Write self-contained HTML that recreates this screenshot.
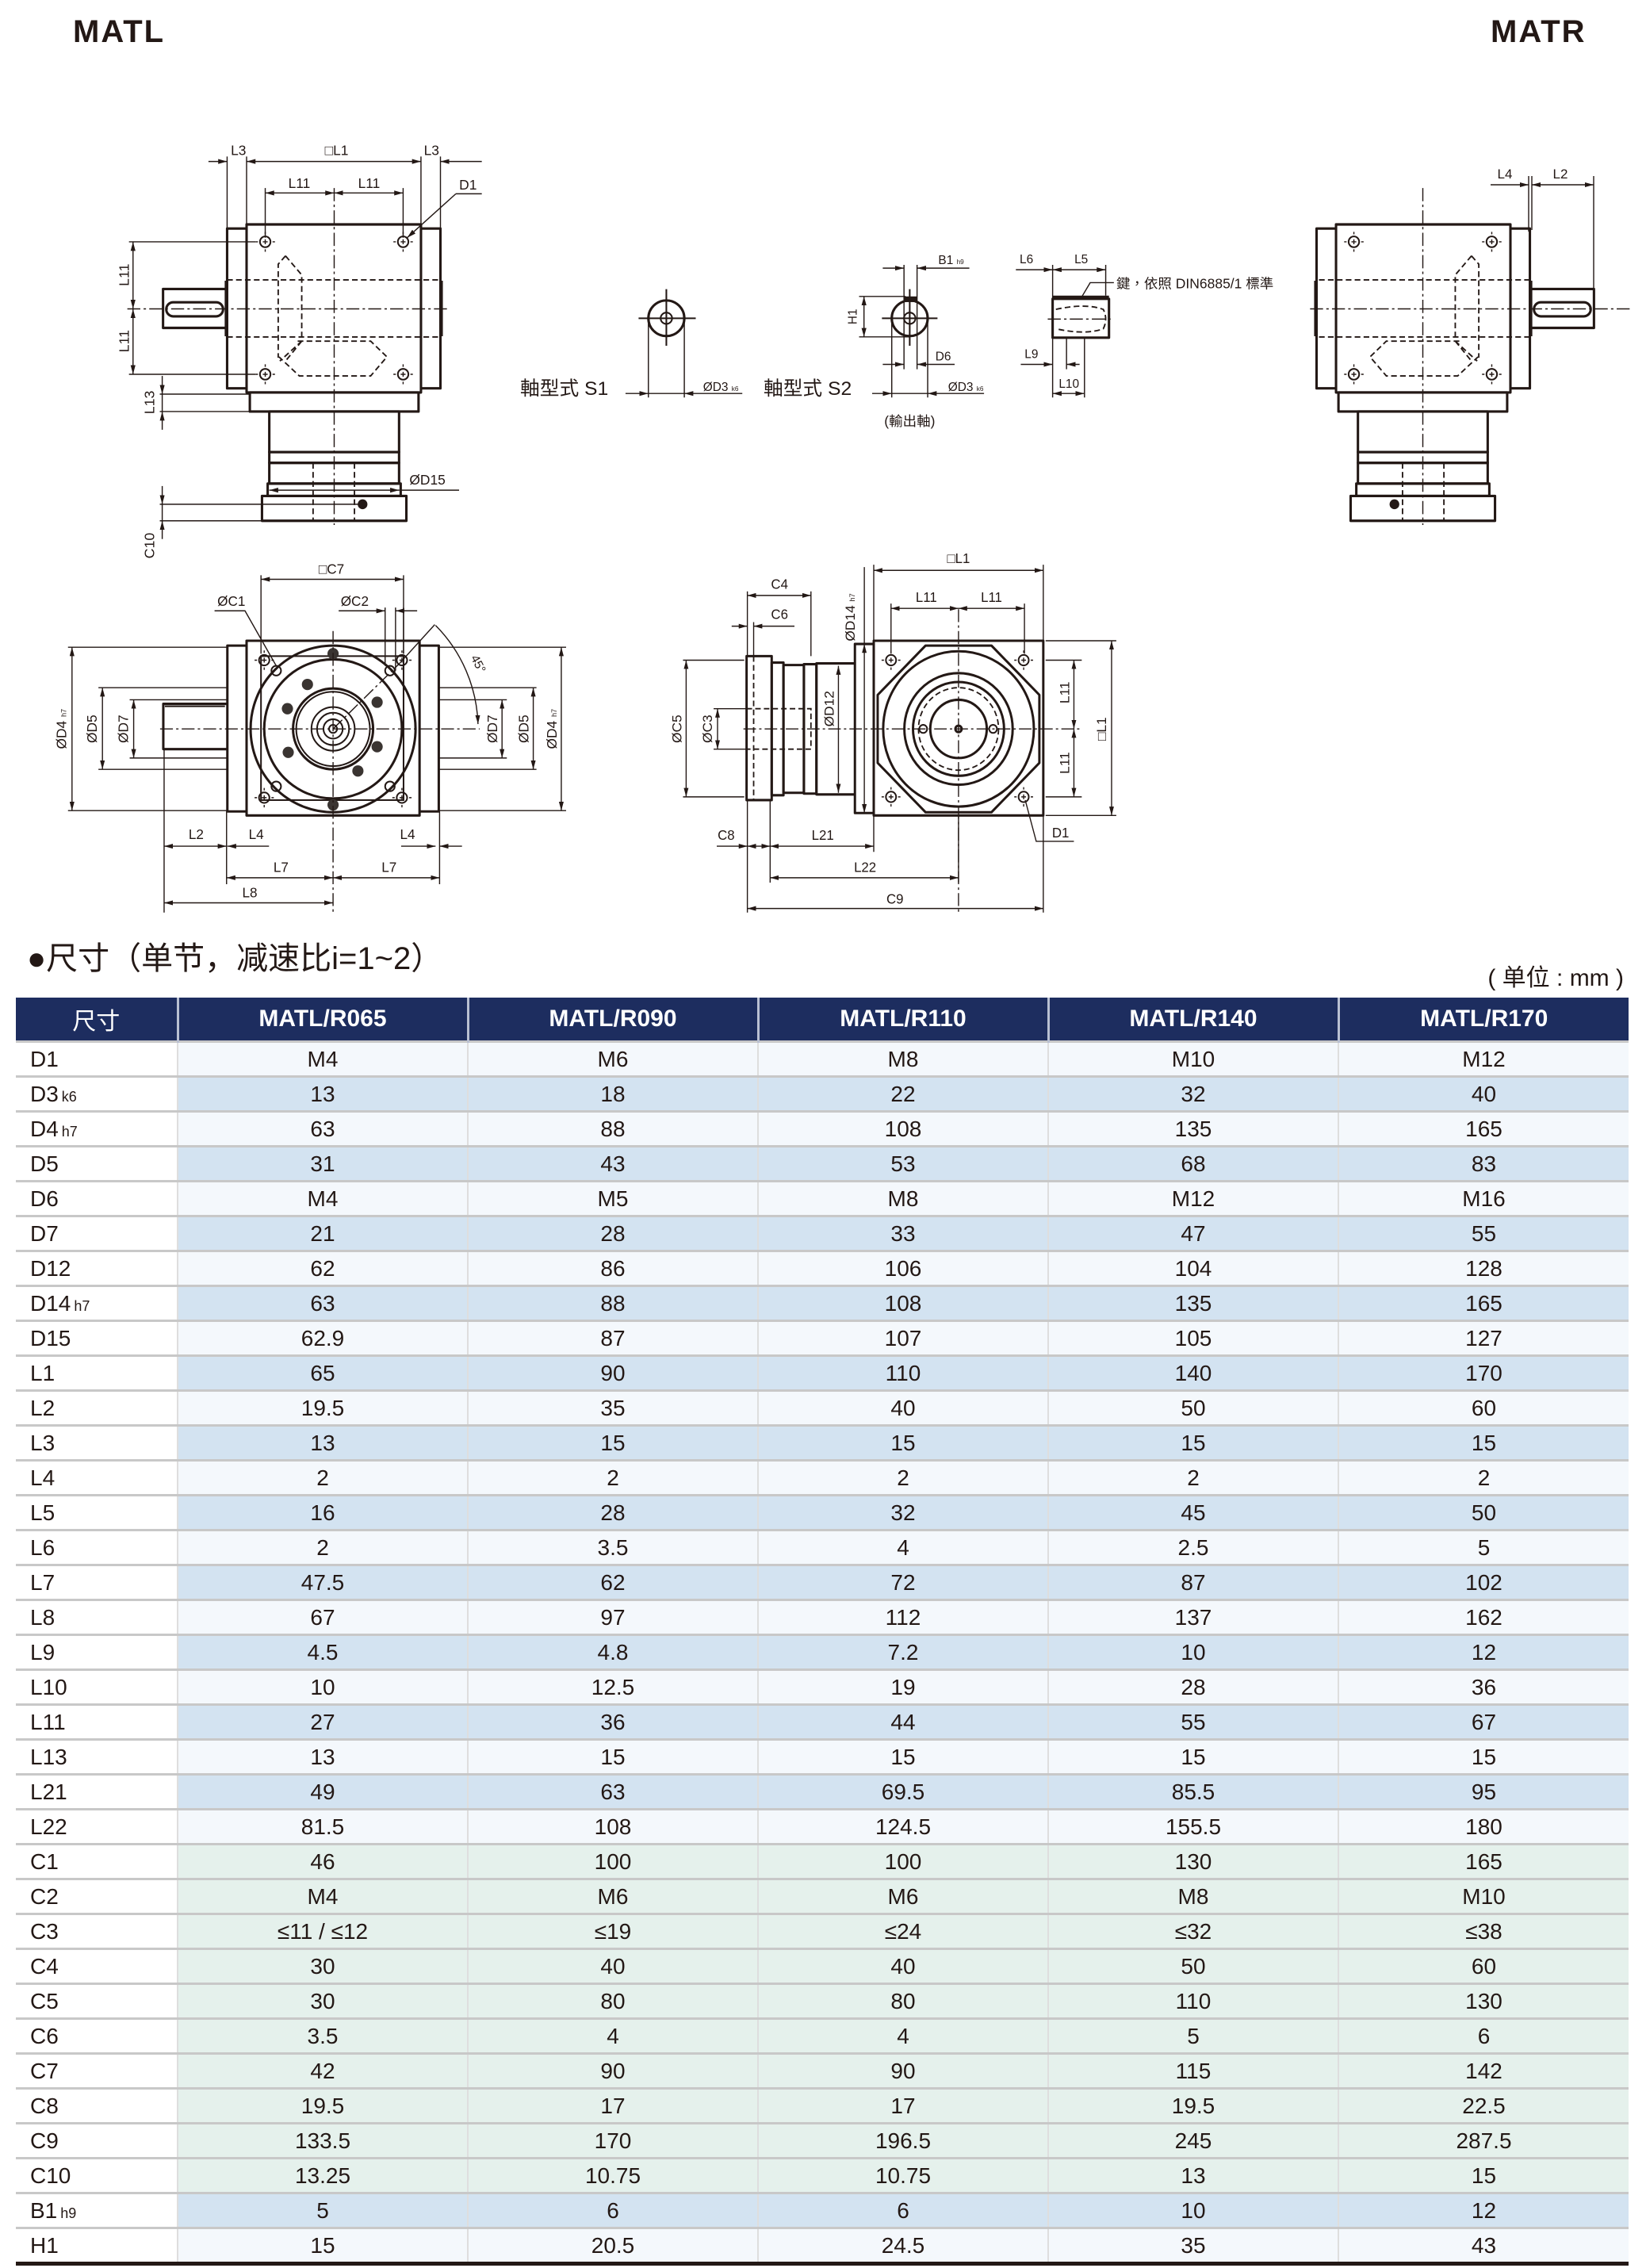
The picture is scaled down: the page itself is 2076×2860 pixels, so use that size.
<!DOCTYPE html>
<html><head><meta charset="utf-8">
<style>
html,body{margin:0;padding:0;background:#fff;}
body{width:2076px;height:2860px;position:relative;overflow:hidden;font-family:"Liberation Sans","Noto Sans CJK SC",sans-serif;color:#231815;}
svg text{font-family:"Liberation Sans","Noto Sans CJK TC",sans-serif;fill:#231815;}
.t{fill:none;stroke:#231815;stroke-width:3;stroke-linejoin:round}
.m{fill:none;stroke:#231815;stroke-width:2}
.d{fill:none;stroke:#231815;stroke-width:1.4}
.h{fill:none;stroke:#231815;stroke-width:1.8;stroke-dasharray:7 4}
.c{fill:none;stroke:#231815;stroke-width:1.4;stroke-dasharray:16 4 3 4}
.a{marker-start:url(#ar);marker-end:url(#ar)}
.e{marker-end:url(#ar)}
.lb{font-size:17px;text-anchor:middle}
#tbl{position:absolute;left:20px;top:1258px;border-collapse:collapse;table-layout:fixed;width:2034px;}
#tbl th{background:#1d2d5f;color:#fff;font-weight:bold;font-size:30px;height:54px;padding:0;border-left:3px solid #b9c0d2;}
#tbl th:first-child{border-left:none;font-weight:normal;font-family:"Liberation Sans","Noto Sans CJK SC",sans-serif;}
#tbl td{height:41px;padding:0;border-top:3px solid #c8c8c8;font-size:28px;text-align:center;border-left:2px solid #dedede;background:#f4f8fc;}
#tbl td:first-child{text-align:left;padding-left:18px;background:#fff;border-left:none;}
#tbl tr.b td{background:#d3e3f1;}
#tbl tr.g td{background:#e5f1ec;}
#tbl tr.b td:first-child,#tbl tr.g td:first-child{background:#fff;}
#tbl td small{font-size:18px;margin-left:4px;}
#tbl tr:last-child td{border-bottom:5px solid #231815;}
</style></head><body>

<div style="position:absolute;left:92px;top:18px;font-size:40px;font-weight:bold;letter-spacing:2px;">MATL</div>
<div style="position:absolute;left:1880px;top:18px;font-size:40px;font-weight:bold;letter-spacing:2px;">MATR</div>

<svg style="position:absolute;left:0;top:0" width="2076" height="1180" viewBox="0 0 2076 1180">
<defs>
<marker id="ar" viewBox="0 0 11 6" refX="11" refY="3" markerWidth="11" markerHeight="6" markerUnits="userSpaceOnUse" orient="auto-start-reverse"><path d="M0,0 L11,3 L0,6z" fill="#231815"/></marker>
<g id="hole"><circle r="6.5" class="m"/><path d="M-3,0H3M0,-3V3" class="d"/><path d="M-12,0H-9M9,0H12M0,-12V-9M0,9V12" class="d"/></g>
<g id="body">
 <rect x="307" y="272" width="215" height="203" class="t"/>
 <path d="M307,277H283V470H307M522,277H546V470H522" class="t"/>
 <path d="M282,340V407M547,340V407" stroke="#231815" stroke-width="4"/>
 <rect x="204" y="350" width="78" height="47" class="t"/>
 <rect x="208" y="366" width="70" height="17" rx="8.5" class="t"/>
 <use href="#hole" x="330" y="293"/><use href="#hole" x="500" y="293"/>
 <use href="#hole" x="330" y="453"/><use href="#hole" x="500" y="453"/>
 <path d="M283,339H546M283,408H546" class="h"/>
 <path d="M355,310L346,320V433M355,310L375,333V413L348,437M370,413H460L480,432L460,455H372L347,432M375,413L355,437" class="h"/>
 <path d="M160,374H555M415,228V635" class="c"/>
 <rect x="311" y="475" width="208" height="23" class="t"/>
 <rect x="335" y="498" width="160" height="49" class="t"/>
 <rect x="335" y="547" width="160" height="13" class="t"/>
 <rect x="335" y="560" width="160" height="25" class="t"/>
 <rect x="333" y="585" width="164" height="15" class="t"/>
 <rect x="326" y="600" width="178" height="30" class="t"/>
 <path d="M389,560V630M440,560V630" class="h"/>
 <circle cx="450" cy="610" r="6" fill="#231815"/>
</g>
</defs>

<!-- TOP LEFT MATL -->
<g transform="translate(311,283) scale(1.023,1.044) translate(-307,-272)">
 <use href="#body"/>
 <path d="M283,190V277M307,190V272M522,190V272M546,190V277" class="d"/>
 <line x1="260" y1="196" x2="283" y2="196" class="d e"/>
 <line x1="307" y1="196" x2="522" y2="196" class="d a"/>
 <line x1="597" y1="196" x2="546" y2="196" class="d e"/>
 <text x="297" y="188" class="lb">L3</text><text x="418" y="188" class="lb">□L1</text><text x="535" y="188" class="lb">L3</text>
 <path d="M330,228V288M500,228V288" class="d"/>
 <line x1="330" y1="234" x2="415" y2="234" class="d a"/><line x1="415" y1="234" x2="500" y2="234" class="d a"/>
 <text x="372" y="228" class="lb">L11</text><text x="458" y="228" class="lb">L11</text>
 <text x="580" y="230" class="lb">D1</text>
 <path d="M565,235H597" class="d"/><line x1="565" y1="235" x2="505" y2="288" class="d e"/>
 <path d="M162,293H318M162,453H318" class="d"/>
 <line x1="167" y1="293" x2="167" y2="374" class="d a"/><line x1="167" y1="374" x2="167" y2="453" class="d a"/>
 <text transform="translate(162,333) rotate(-90)" class="lb">L11</text>
 <text transform="translate(162,413) rotate(-90)" class="lb">L11</text>
 <path d="M200,477H310M200,498H311" class="d"/>
 <line x1="203" y1="455" x2="203" y2="477" class="d e"/><line x1="203" y1="520" x2="203" y2="498" class="d e"/><path d="M203,477V498" class="d"/>
 <text transform="translate(193,487) rotate(-90)" class="lb">L13</text>
 <line x1="335" y1="593" x2="495" y2="593" class="d a"/><path d="M495,593H569" class="d"/>
 <text x="530" y="586" class="lb">ØD15</text>
 <path d="M200,610H445M200,630H326" class="d"/>
 <line x1="203" y1="588" x2="203" y2="610" class="d e"/><line x1="203" y1="652" x2="203" y2="630" class="d e"/><path d="M203,610V630" class="d"/>
 <text transform="translate(193,660) rotate(-90)" class="lb">C10</text>
</g>

<!-- TOP RIGHT MATR -->
<g transform="translate(2216,0) scale(-1,1)"><g transform="translate(311,283) scale(1.023,1.044) translate(-307,-272)"><use href="#body"/></g></g>
<path d="M1928,222V292M1932,222V290M2010,222V364" class="d"/>
<line x1="1880" y1="233" x2="1928" y2="233" class="d e"/>
<line x1="1932" y1="233" x2="2010" y2="233" class="d a"/>
<text x="1898" y="225" class="lb">L4</text><text x="1968" y="225" class="lb">L2</text>

<!-- MIDDLE SHAFT VIEWS -->
<g transform="translate(654,486) scale(1.03,1.02) translate(-646,-482)">
 <circle cx="827" cy="399" r="22" class="t"/><circle cx="827" cy="399" r="7" class="m"/>
 <path d="M793,399H863M827,363V433" class="m"/>
 <path d="M805,399V497M849,399V497" class="d"/>
 <line x1="777" y1="492" x2="805" y2="492" class="d e"/><line x1="920" y1="492" x2="849" y2="492" class="d e"/><path d="M805,492H849" class="d"/>
 <text x="648" y="494" style="font-size:24px">軸型式  S1</text>
 <text x="872" y="489" style="font-size:15px">ØD3 <tspan style="font-size:8px">k6</tspan></text>
 <circle cx="1125" cy="399" r="22" class="t"/><circle cx="1125" cy="399" r="7" class="m"/>
 <rect x="1118" y="372" width="16" height="7" fill="#231815"/>
 <path d="M1091,399H1159M1125,363V433" class="m"/>
 <path d="M1103,399V497M1147,399V497M1118,333V462M1134,333V462" class="d"/>
 <line x1="1092" y1="337" x2="1118" y2="337" class="d e"/><line x1="1198" y1="337" x2="1134" y2="337" class="d e"/>
 <text x="1160" y="332" style="font-size:15px">B1 <tspan style="font-size:8px">h9</tspan></text>
 <path d="M1063,372H1120M1063,422H1125" class="d"/>
 <line x1="1069" y1="372" x2="1069" y2="422" class="d a"/>
 <text transform="translate(1060,397) rotate(-90)" class="lb" style="font-size:15px">H1</text>
 <line x1="1092" y1="456" x2="1118" y2="456" class="d e"/><line x1="1180" y1="456" x2="1134" y2="456" class="d e"/>
 <text x="1166" y="451" class="lb" style="font-size:15px">D6</text>
 <line x1="1079" y1="492" x2="1103" y2="492" class="d e"/><line x1="1216" y1="492" x2="1147" y2="492" class="d e"/><path d="M1103,492H1147" class="d"/>
 <text x="946" y="494" style="font-size:24px">軸型式  S2</text>
 <text x="1172" y="489" style="font-size:15px">ØD3 <tspan style="font-size:8px">k6</tspan></text>
 <text x="1125" y="532" class="lb" style="font-size:17px">(輸出軸)</text>
 <!-- key side view -->
 <path d="M1300,375H1369V423H1300Z" class="t"/>
 <rect x="1300" y="371" width="69" height="5" fill="#231815"/>
 <path d="M1304,388Q1340,380 1362,388Q1368,400 1362,412Q1340,420 1304,412" class="h"/>
 <path d="M1294,400H1375" class="c"/>
 <path d="M1300,333V375M1365,333V371M1300,423V497M1317,423V462M1339,423V497" class="d"/>
 <line x1="1255" y1="339" x2="1300" y2="339" class="d e"/>
 <line x1="1300" y1="339" x2="1365" y2="339" class="d a"/>
 <text x="1268" y="331" class="lb" style="font-size:15px">L6</text><text x="1335" y="331" class="lb" style="font-size:15px">L5</text>
 <path d="M1336,372L1346,355H1375" class="d"/>
 <text x="1378" y="362" style="font-size:17px">鍵，依照 DIN6885/1 標準</text>
 <line x1="1261" y1="456" x2="1300" y2="456" class="d e"/><line x1="1333" y1="456" x2="1317" y2="456" class="d e"/>
 <text x="1274" y="448" class="lb" style="font-size:15px">L9</text>
 <line x1="1300" y1="492" x2="1339" y2="492" class="d a"/>
 <text x="1320" y="485" class="lb" style="font-size:15px">L10</text>
</g>

<!-- BOTTOM LEFT -->
<g transform="translate(311,808) scale(1.01,1.02) translate(-307,-799)">
 <rect x="307" y="799" width="216" height="216" class="t"/>
 <path d="M307,805H283V1010H307M523,805H547V1010H523" class="t"/>
 <path d="M283,877H203V933H283" class="t"/>
 <path d="M205,880H280" class="m"/>
 <circle cx="415" cy="908" r="103" class="t"/>
 <circle cx="415" cy="908" r="86" class="t"/>
 <rect x="325" y="818" width="178" height="178" class="m"/>
 <circle cx="415" cy="908" r="50" class="t"/>
 <circle cx="415" cy="908" r="46" class="m"/>
 <circle cx="415" cy="908" r="27" class="m"/>
 <circle cx="415" cy="908" r="20" class="m"/>
 <circle cx="415" cy="908" r="12" class="m"/>
 <circle cx="415" cy="908" r="5" class="m"/>
 <g fill="#3a3431"><circle cx="383" cy="853" r="7"/><circle cx="358" cy="883" r="7"/><circle cx="359" cy="937" r="7"/><circle cx="446" cy="960" r="7"/><circle cx="470" cy="930" r="7"/><circle cx="470" cy="875" r="7"/><circle cx="415" cy="815" r="7"/><circle cx="415" cy="1002" r="7"/></g>
 <use href="#hole" x="329" y="823"/><use href="#hole" x="501" y="823"/><use href="#hole" x="329" y="993"/><use href="#hole" x="501" y="993"/>
 <circle cx="344" cy="836" r="6" class="m"/><circle cx="486" cy="836" r="6" class="m"/><circle cx="344" cy="979" r="6" class="m"/><circle cx="486" cy="979" r="6" class="m"/>
 <path d="M199,908H598M415,787V1135" class="c"/>
 <path d="M415,908L498,827" class="c"/><path d="M498,827L542,779" class="d"/>
 <path d="M543,780A181,181 0 0 1 596,902" class="d e"/>
 <text transform="translate(592,830) rotate(62)" class="lb" style="font-size:15px">45°</text>
 <path d="M325,718V815M503,718V815" class="d"/>
 <line x1="325" y1="723" x2="503" y2="723" class="d a"/>
 <text x="413" y="716" class="lb">□C7</text>
 <text x="288" y="756" class="lb">ØC1</text><path d="M267,762H305L344,830" class="d"/>
 <text x="442" y="756" class="lb">ØC2</text>
 <path d="M480,758V830M493,758V836M503,758V815" class="d"/>
 <line x1="422" y1="762" x2="480" y2="762" class="d e"/><line x1="520" y1="762" x2="493" y2="762" class="d e"/>
 <path d="M84,807H283M84,1009H283M122,857H283M122,958H283M161,872H283M161,944H283" class="d"/>
 <line x1="89" y1="807" x2="89" y2="1009" class="d a"/>
 <line x1="127" y1="857" x2="127" y2="958" class="d a"/>
 <line x1="166" y1="872" x2="166" y2="944" class="d a"/>
 <text transform="translate(82,908) rotate(-90)" class="lb">ØD4 <tspan style="font-size:9px">h7</tspan></text>
 <text transform="translate(120,908) rotate(-90)" class="lb">ØD5</text>
 <text transform="translate(159,908) rotate(-90)" class="lb">ØD7</text>
 <path d="M547,807H706M547,1009H706M547,857H669M547,958H669M547,872H632M547,944H632" class="d"/>
 <line x1="700" y1="807" x2="700" y2="1009" class="d a"/>
 <line x1="665" y1="857" x2="665" y2="958" class="d a"/>
 <line x1="626" y1="872" x2="626" y2="944" class="d a"/>
 <text transform="translate(620,908) rotate(-90)" class="lb">ØD7</text>
 <text transform="translate(659,908) rotate(-90)" class="lb">ØD5</text>
 <text transform="translate(694,908) rotate(-90)" class="lb">ØD4 <tspan style="font-size:9px">h7</tspan></text>
 <path d="M204,933V1135M282,1010V1100M548,1010V1100" class="d"/>
 <line x1="204" y1="1053" x2="282" y2="1053" class="d a"/>
 <line x1="335" y1="1053" x2="283" y2="1053" class="d e"/>
 <line x1="500" y1="1053" x2="543" y2="1053" class="d e"/><line x1="576" y1="1053" x2="548" y2="1053" class="d e"/>
 <text x="244" y="1044" class="lb">L2</text><text x="319" y="1044" class="lb">L4</text><text x="508" y="1044" class="lb">L4</text>
 <line x1="282" y1="1092" x2="415" y2="1092" class="d a"/><line x1="415" y1="1092" x2="548" y2="1092" class="d a"/>
 <text x="350" y="1085" class="lb">L7</text><text x="485" y="1085" class="lb">L7</text>
 <line x1="204" y1="1123" x2="415" y2="1123" class="d a"/>
 <text x="311" y="1116" class="lb">L8</text>
</g>

<!-- BOTTOM RIGHT -->
<g transform="translate(1102,808) scale(0.99,1.02) translate(-1084,-799)">
 <rect x="1084" y="799" width="216" height="216" class="t"/>
 <rect x="1060" y="803" width="24" height="209" class="t"/>
 <path d="M1060,827H1011V989H1060" class="t"/>
 <rect x="995" y="828" width="16" height="160" class="t"/>
 <rect x="969" y="829" width="26" height="158" class="t"/>
 <rect x="954" y="826" width="15" height="164" class="t"/>
 <rect x="922" y="818" width="32" height="178" class="t"/>
 <path d="M931,818V996M922,883H1004V933H922" class="h"/>
 <path d="M918,908H1347M1192,760V1135" class="c"/>
 <path d="M1150,805H1234L1295,866V950L1234,1011H1150L1089,950V866Z" class="t"/>
 <circle cx="1192" cy="908" r="96" class="t"/>
 <circle cx="1192" cy="908" r="69" class="t"/>
 <circle cx="1192" cy="908" r="58" class="t"/>
 <circle cx="1192" cy="908" r="51" class="h"/>
 <circle cx="1192" cy="908" r="36" class="t"/>
 <circle cx="1192" cy="908" r="4" class="t"/>
 <circle cx="1147" cy="908" r="5" class="m"/><circle cx="1236" cy="908" r="5" class="m"/>
 <use href="#hole" x="1106" y="823"/><use href="#hole" x="1275" y="823"/><use href="#hole" x="1106" y="992"/><use href="#hole" x="1275" y="992"/>
 <path d="M1084,705V799M1300,705V799M1072,708V803" class="d"/>
 <line x1="1084" y1="712" x2="1300" y2="712" class="d a"/>
 <text x="1192" y="703" class="lb">□L1</text>
 <path d="M1106,753V815M1276,753V815" class="d"/>
 <line x1="1106" y1="759" x2="1192" y2="759" class="d a"/><line x1="1192" y1="759" x2="1276" y2="759" class="d a"/>
 <text x="1151" y="751" class="lb">L11</text><text x="1234" y="751" class="lb">L11</text>
 <line x1="1072" y1="803" x2="1072" y2="1012" class="d a"/>
 <text transform="translate(1060,770) rotate(-90)" class="lb">ØD14 <tspan style="font-size:9px">h7</tspan></text>
 <line x1="1039" y1="830" x2="1039" y2="987" class="d a"/>
 <text transform="translate(1033,883) rotate(-90)" class="lb">ØD12</text>
 <path d="M841,823H919M841,992H919M880,883H922M880,933H922" class="d"/>
 <line x1="845" y1="823" x2="845" y2="992" class="d a"/>
 <text transform="translate(839,908) rotate(-90)" class="lb">ØC5</text>
 <line x1="885" y1="883" x2="885" y2="933" class="d a"/>
 <text transform="translate(878,908) rotate(-90)" class="lb">ØC3</text>
 <path d="M923,738V818M1004,738V818M931,776V818" class="d"/>
 <line x1="923" y1="743" x2="1004" y2="743" class="d a"/>
 <text x="964" y="735" class="lb">C4</text>
 <line x1="903" y1="781" x2="923" y2="781" class="d e"/><line x1="983" y1="781" x2="931" y2="781" class="d e"/>
 <text x="964" y="772" class="lb">C6</text>
 <path d="M923,996V1135M952,996V1098M1084,1015V1060M1192,1015V1098M1300,1015V1135" class="d"/>
 <line x1="884" y1="1053" x2="923" y2="1053" class="d e"/><line x1="923" y1="1053" x2="952" y2="1053" class="d a"/>
 <text x="896" y="1045" class="lb">C8</text>
 <line x1="952" y1="1053" x2="1084" y2="1053" class="d a"/>
 <text x="1019" y="1045" class="lb">L21</text>
 <line x1="952" y1="1092" x2="1192" y2="1092" class="d a"/>
 <text x="1073" y="1085" class="lb">L22</text>
 <line x1="923" y1="1130" x2="1300" y2="1130" class="d a"/>
 <text x="1111" y="1124" class="lb">C9</text>
 <path d="M1303,823H1349M1303,992H1349M1303,799H1393M1303,1015H1393" class="d"/>
 <line x1="1339" y1="823" x2="1339" y2="908" class="d a"/><line x1="1339" y1="908" x2="1339" y2="992" class="d a"/>
 <text transform="translate(1333,863) rotate(-90)" class="lb">L11</text>
 <text transform="translate(1333,950) rotate(-90)" class="lb">L11</text>
 <line x1="1387" y1="799" x2="1387" y2="1015" class="d a"/>
 <text transform="translate(1380,908) rotate(-90)" class="lb">□L1</text>
 <path d="M1339,1047H1291L1277,996" class="d"/>
 <text x="1322" y="1042" class="lb">D1</text>
</g>
</svg>

<div style="position:absolute;left:34px;top:1176px;font-size:40px;font-family:'Liberation Sans','Noto Sans CJK SC',sans-serif;white-space:nowrap;">●尺寸（单节，减速比i=1~2）</div>
<div style="position:absolute;right:28px;top:1208px;font-size:30px;font-family:'Liberation Sans','Noto Sans CJK SC',sans-serif;white-space:nowrap;">( 单位 : mm )</div>

<table id="tbl">
<colgroup><col style="width:204px"><col style="width:366px"><col style="width:366px"><col style="width:366px"><col style="width:366px"><col style="width:366px"></colgroup>
<tr><th>尺寸</th><th>MATL/R065</th><th>MATL/R090</th><th>MATL/R110</th><th>MATL/R140</th><th>MATL/R170</th></tr>
<tr><td>D1</td><td>M4</td><td>M6</td><td>M8</td><td>M10</td><td>M12</td></tr>
<tr class="b"><td>D3<small>k6</small></td><td>13</td><td>18</td><td>22</td><td>32</td><td>40</td></tr>
<tr><td>D4<small>h7</small></td><td>63</td><td>88</td><td>108</td><td>135</td><td>165</td></tr>
<tr class="b"><td>D5</td><td>31</td><td>43</td><td>53</td><td>68</td><td>83</td></tr>
<tr><td>D6</td><td>M4</td><td>M5</td><td>M8</td><td>M12</td><td>M16</td></tr>
<tr class="b"><td>D7</td><td>21</td><td>28</td><td>33</td><td>47</td><td>55</td></tr>
<tr><td>D12</td><td>62</td><td>86</td><td>106</td><td>104</td><td>128</td></tr>
<tr class="b"><td>D14<small>h7</small></td><td>63</td><td>88</td><td>108</td><td>135</td><td>165</td></tr>
<tr><td>D15</td><td>62.9</td><td>87</td><td>107</td><td>105</td><td>127</td></tr>
<tr class="b"><td>L1</td><td>65</td><td>90</td><td>110</td><td>140</td><td>170</td></tr>
<tr><td>L2</td><td>19.5</td><td>35</td><td>40</td><td>50</td><td>60</td></tr>
<tr class="b"><td>L3</td><td>13</td><td>15</td><td>15</td><td>15</td><td>15</td></tr>
<tr><td>L4</td><td>2</td><td>2</td><td>2</td><td>2</td><td>2</td></tr>
<tr class="b"><td>L5</td><td>16</td><td>28</td><td>32</td><td>45</td><td>50</td></tr>
<tr><td>L6</td><td>2</td><td>3.5</td><td>4</td><td>2.5</td><td>5</td></tr>
<tr class="b"><td>L7</td><td>47.5</td><td>62</td><td>72</td><td>87</td><td>102</td></tr>
<tr><td>L8</td><td>67</td><td>97</td><td>112</td><td>137</td><td>162</td></tr>
<tr class="b"><td>L9</td><td>4.5</td><td>4.8</td><td>7.2</td><td>10</td><td>12</td></tr>
<tr><td>L10</td><td>10</td><td>12.5</td><td>19</td><td>28</td><td>36</td></tr>
<tr class="b"><td>L11</td><td>27</td><td>36</td><td>44</td><td>55</td><td>67</td></tr>
<tr><td>L13</td><td>13</td><td>15</td><td>15</td><td>15</td><td>15</td></tr>
<tr class="b"><td>L21</td><td>49</td><td>63</td><td>69.5</td><td>85.5</td><td>95</td></tr>
<tr><td>L22</td><td>81.5</td><td>108</td><td>124.5</td><td>155.5</td><td>180</td></tr>
<tr class="g"><td>C1</td><td>46</td><td>100</td><td>100</td><td>130</td><td>165</td></tr>
<tr class="g"><td>C2</td><td>M4</td><td>M6</td><td>M6</td><td>M8</td><td>M10</td></tr>
<tr class="g"><td>C3</td><td>≤11 / ≤12</td><td>≤19</td><td>≤24</td><td>≤32</td><td>≤38</td></tr>
<tr class="g"><td>C4</td><td>30</td><td>40</td><td>40</td><td>50</td><td>60</td></tr>
<tr class="g"><td>C5</td><td>30</td><td>80</td><td>80</td><td>110</td><td>130</td></tr>
<tr class="g"><td>C6</td><td>3.5</td><td>4</td><td>4</td><td>5</td><td>6</td></tr>
<tr class="g"><td>C7</td><td>42</td><td>90</td><td>90</td><td>115</td><td>142</td></tr>
<tr class="g"><td>C8</td><td>19.5</td><td>17</td><td>17</td><td>19.5</td><td>22.5</td></tr>
<tr class="g"><td>C9</td><td>133.5</td><td>170</td><td>196.5</td><td>245</td><td>287.5</td></tr>
<tr class="g"><td>C10</td><td>13.25</td><td>10.75</td><td>10.75</td><td>13</td><td>15</td></tr>
<tr class="b"><td>B1<small>h9</small></td><td>5</td><td>6</td><td>6</td><td>10</td><td>12</td></tr>
<tr><td>H1</td><td>15</td><td>20.5</td><td>24.5</td><td>35</td><td>43</td></tr>
</table>
</body></html>
